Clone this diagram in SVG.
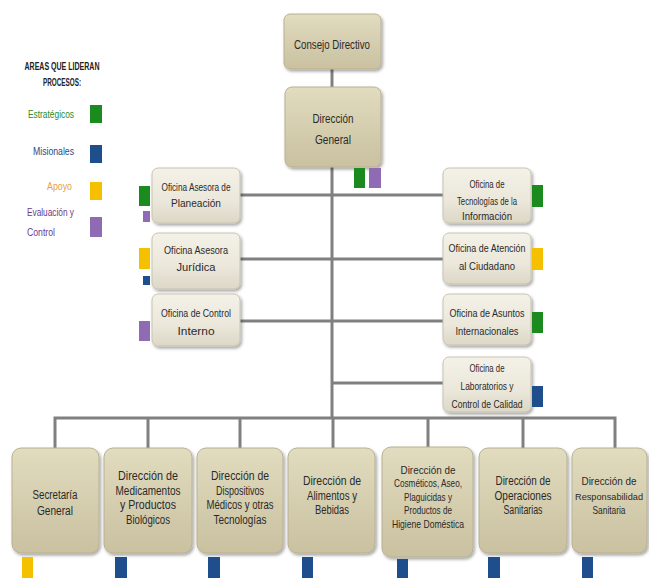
<svg xmlns="http://www.w3.org/2000/svg" width="649" height="578" viewBox="0 0 649 578">
<defs>
<linearGradient id="gTan" x1="0" y1="0" x2="0" y2="1">
<stop offset="0" stop-color="#e2dcc0"/><stop offset="0.5" stop-color="#d5ceaf"/><stop offset="1" stop-color="#c9c1a0"/>
</linearGradient>
<linearGradient id="gLight" x1="0" y1="0" x2="0" y2="1">
<stop offset="0" stop-color="#f4f1e8"/><stop offset="0.6" stop-color="#ebe7da"/><stop offset="1" stop-color="#dcd7c6"/>
</linearGradient>
<filter id="sh" x="-10%" y="-10%" width="125%" height="130%">
<feDropShadow dx="1.5" dy="2" stdDeviation="1.5" flood-color="#000" flood-opacity="0.35"/>
</filter>
</defs>
<style>
.tan{fill:url(#gTan);stroke:#b8b090;stroke-width:1;filter:url(#sh)}
.lt{fill:url(#gLight);stroke:#c8c3b0;stroke-width:1;filter:url(#sh)}
.t{font-family:"Liberation Sans",Arial,sans-serif;fill:#2a2a2a;text-anchor:middle}
.b{font-size:12.5px}
.s{font-size:10.5px}
.ln{stroke:#808080;stroke-width:3;fill:none}
.G{fill:#1b8a1f}.B{fill:#1f4e8c}.Y{fill:#f5c000}.P{fill:#8f6bb3}
.lg{font-family:"Liberation Sans",Arial,sans-serif;font-size:10px}
</style>
<rect width="649" height="578" fill="#ffffff"/>

<g id="legend">
<text class="lg" x="62" y="70" text-anchor="middle" fill="#222" font-weight="bold" font-size="9" textLength="75" lengthAdjust="spacingAndGlyphs">AREAS QUE LIDERAN</text>
<text class="lg" x="62" y="86" text-anchor="middle" fill="#222" font-weight="bold" font-size="9" textLength="38" lengthAdjust="spacingAndGlyphs">PROCESOS:</text>
<text class="lg" x="74" y="118" text-anchor="end" fill="#2a8a2a" textLength="46" lengthAdjust="spacingAndGlyphs">Estratégicos</text>
<rect class="G" x="90" y="105" width="12" height="18"/>
<text class="lg" x="74" y="155" text-anchor="end" fill="#2a4a8a" textLength="41" lengthAdjust="spacingAndGlyphs">Misionales</text>
<rect class="B" x="90" y="145" width="12" height="18"/>
<text class="lg" x="72" y="190" text-anchor="end" fill="#e8a040" textLength="25" lengthAdjust="spacingAndGlyphs">Apoyo</text>
<rect class="Y" x="90" y="182" width="12" height="18"/>
<text class="lg" x="27" y="216" fill="#6a3a8a" textLength="47" lengthAdjust="spacingAndGlyphs">Evaluación y</text>
<text class="lg" x="27" y="236" fill="#6a3a8a" textLength="28" lengthAdjust="spacingAndGlyphs">Control</text>
<rect class="P" x="90" y="217" width="12" height="20"/>
</g>

<g id="connectors">
<line class="ln" x1="332" y1="69" x2="332" y2="87"/>
<line class="ln" x1="332" y1="167" x2="332" y2="418"/>
<line class="ln" x1="240" y1="195" x2="443" y2="195"/>
<line class="ln" x1="240" y1="259" x2="443" y2="259"/>
<line class="ln" x1="240" y1="321" x2="443" y2="321"/>
<line class="ln" x1="332" y1="383" x2="443" y2="383"/>
<polyline class="ln" points="55,448 55,418 615,418 615,448"/>
<line class="ln" x1="148" y1="418" x2="148" y2="448"/>
<line class="ln" x1="240" y1="418" x2="240" y2="448"/>
<line class="ln" x1="333" y1="418" x2="333" y2="448"/>
<line class="ln" x1="428" y1="418" x2="428" y2="448"/>
<line class="ln" x1="523" y1="418" x2="523" y2="448"/>
</g>

<g id="consejo">
<rect class="tan" x="284" y="14" width="97" height="55" rx="6"/>
<text class="t b" x="332" y="49" textLength="76" lengthAdjust="spacingAndGlyphs">Consejo Directivo</text>
</g>
<g id="direccion-general">
<rect class="tan" x="285" y="87" width="96" height="80" rx="7"/>
<text class="t b" x="333" y="123" textLength="41" lengthAdjust="spacingAndGlyphs">Dirección</text>
<text class="t b" x="333" y="144" textLength="36" lengthAdjust="spacingAndGlyphs">General</text>
<rect class="G" x="354" y="168" width="11" height="20"/>
<rect class="P" x="369" y="168" width="12" height="20"/>
</g>

<g id="of-planeacion">
<rect class="lt" x="152" y="168" width="88" height="55" rx="6"/>
<text class="t s" x="196" y="191" textLength="69" lengthAdjust="spacingAndGlyphs">Oficina Asesora de</text>
<text class="t s" x="196" y="207" textLength="50" lengthAdjust="spacingAndGlyphs">Planeación</text>
<rect class="G" x="139" y="186" width="11" height="20"/>
<rect class="P" x="143" y="211" width="7" height="11"/>
</g>
<g id="of-juridica">
<rect class="lt" x="152" y="233" width="88" height="56" rx="6"/>
<text class="t s" x="196" y="254" textLength="64" lengthAdjust="spacingAndGlyphs">Oficina Asesora</text>
<text class="t s" x="196" y="271" textLength="39" lengthAdjust="spacingAndGlyphs">Jurídica</text>
<rect class="Y" x="139" y="248" width="11" height="21"/>
<rect class="B" x="143" y="276" width="7" height="9"/>
</g>
<g id="of-control">
<rect class="lt" x="152" y="294" width="88" height="52" rx="6"/>
<text class="t s" x="196" y="317" textLength="70" lengthAdjust="spacingAndGlyphs">Oficina de Control</text>
<text class="t s" x="196" y="335" textLength="37" lengthAdjust="spacingAndGlyphs">Interno</text>
<rect class="P" x="139" y="321" width="11" height="20"/>
</g>

<g id="of-tecnologias">
<rect class="lt" x="443" y="168" width="88" height="55" rx="6"/>
<text class="t s" x="487" y="188" textLength="35" lengthAdjust="spacingAndGlyphs">Oficina de</text>
<text class="t s" x="487" y="205" textLength="60" lengthAdjust="spacingAndGlyphs">Tecnologías de la</text>
<text class="t s" x="487" y="220" textLength="50" lengthAdjust="spacingAndGlyphs">Información</text>
<rect class="G" x="532" y="185" width="11" height="22"/>
</g>
<g id="of-atencion">
<rect class="lt" x="443" y="233" width="88" height="51" rx="6"/>
<text class="t s" x="487" y="252" textLength="77" lengthAdjust="spacingAndGlyphs">Oficina de Atención</text>
<text class="t s" x="487" y="270" textLength="56" lengthAdjust="spacingAndGlyphs">al Ciudadano</text>
<rect class="Y" x="532" y="248" width="11" height="22"/>
</g>
<g id="of-asuntos">
<rect class="lt" x="443" y="294" width="88" height="51" rx="6"/>
<text class="t s" x="487" y="317" textLength="75" lengthAdjust="spacingAndGlyphs">Oficina de Asuntos</text>
<text class="t s" x="487" y="335" textLength="63" lengthAdjust="spacingAndGlyphs">Internacionales</text>
<rect class="G" x="532" y="312" width="11" height="21"/>
</g>
<g id="of-laboratorios">
<rect class="lt" x="443" y="357" width="88" height="55" rx="6"/>
<text class="t s" x="487" y="372" textLength="35" lengthAdjust="spacingAndGlyphs">Oficina de</text>
<text class="t s" x="487" y="390" textLength="53" lengthAdjust="spacingAndGlyphs">Laboratorios y</text>
<text class="t s" x="487" y="408" textLength="71" lengthAdjust="spacingAndGlyphs">Control de Calidad</text>
<rect class="B" x="532" y="386" width="11" height="21"/>
</g>

<g id="secretaria">
<rect class="tan" x="12" y="448" width="87" height="105" rx="9"/>
<text class="t b" x="55" y="499" textLength="45" lengthAdjust="spacingAndGlyphs">Secretaría</text>
<text class="t b" x="55" y="515" textLength="36" lengthAdjust="spacingAndGlyphs">General</text>
<rect class="Y" x="22" y="557" width="11" height="21"/>
</g>
<g id="medicamentos">
<rect class="tan" x="104" y="448" width="88" height="105" rx="9"/>
<text class="t b" x="148" y="480" textLength="60" lengthAdjust="spacingAndGlyphs">Dirección de</text>
<text class="t b" x="148" y="495" textLength="65" lengthAdjust="spacingAndGlyphs">Medicamentos</text>
<text class="t b" x="148" y="509" textLength="56" lengthAdjust="spacingAndGlyphs">y Productos</text>
<text class="t b" x="148" y="524" textLength="44" lengthAdjust="spacingAndGlyphs">Biológicos</text>
<rect class="B" x="115" y="557" width="12" height="21"/>
</g>
<g id="dispositivos">
<rect class="tan" x="197" y="448" width="86" height="105" rx="9"/>
<text class="t b" x="240" y="480" textLength="58" lengthAdjust="spacingAndGlyphs">Dirección de</text>
<text class="t b" x="240" y="495" textLength="48" lengthAdjust="spacingAndGlyphs">Dispositivos</text>
<text class="t b" x="240" y="509" textLength="67" lengthAdjust="spacingAndGlyphs">Médicos y otras</text>
<text class="t b" x="240" y="524" textLength="53" lengthAdjust="spacingAndGlyphs">Tecnologías</text>
<rect class="B" x="208" y="557" width="12" height="21"/>
</g>
<g id="alimentos">
<rect class="tan" x="288" y="448" width="87" height="105" rx="9"/>
<text class="t b" x="332" y="485" textLength="58" lengthAdjust="spacingAndGlyphs">Dirección de</text>
<text class="t b" x="332" y="500" textLength="50" lengthAdjust="spacingAndGlyphs">Alimentos y</text>
<text class="t b" x="332" y="514" textLength="34" lengthAdjust="spacingAndGlyphs">Bebidas</text>
<rect class="B" x="302" y="557" width="11" height="21"/>
</g>
<g id="cosmeticos">
<rect class="tan" x="382" y="447" width="91" height="110" rx="9"/>
<text class="t s" x="428" y="474" font-size="12" textLength="55" lengthAdjust="spacingAndGlyphs">Dirección de</text>
<text class="t s" x="428" y="487" textLength="68" lengthAdjust="spacingAndGlyphs">Cosméticos, Aseo,</text>
<text class="t s" x="428" y="501" textLength="48" lengthAdjust="spacingAndGlyphs">Plaguicidas y</text>
<text class="t s" x="428" y="514" textLength="48" lengthAdjust="spacingAndGlyphs">Productos de</text>
<text class="t s" x="428" y="528" textLength="72" lengthAdjust="spacingAndGlyphs">Higiene Doméstica</text>
<rect class="B" x="397" y="559" width="11" height="19"/>
</g>
<g id="operaciones">
<rect class="tan" x="479" y="448" width="88" height="105" rx="9"/>
<text class="t b" x="523" y="485" textLength="55" lengthAdjust="spacingAndGlyphs">Dirección de</text>
<text class="t b" x="523" y="500" textLength="57" lengthAdjust="spacingAndGlyphs">Operaciones</text>
<text class="t b" x="523" y="514" textLength="39" lengthAdjust="spacingAndGlyphs">Sanitarias</text>
<rect class="B" x="488" y="557" width="12" height="21"/>
</g>
<g id="responsabilidad">
<rect class="tan" x="572" y="448" width="75" height="105" rx="9"/>
<text class="t" x="609" y="485" font-size="11.5" textLength="55" lengthAdjust="spacingAndGlyphs">Dirección de</text>
<text class="t" x="609" y="500" font-size="9.5" textLength="68" lengthAdjust="spacingAndGlyphs">Responsabilidad</text>
<text class="t" x="609" y="514" font-size="11.5" textLength="33" lengthAdjust="spacingAndGlyphs">Sanitaria</text>
<rect class="B" x="582" y="557" width="11" height="21"/>
</g>
</svg>
